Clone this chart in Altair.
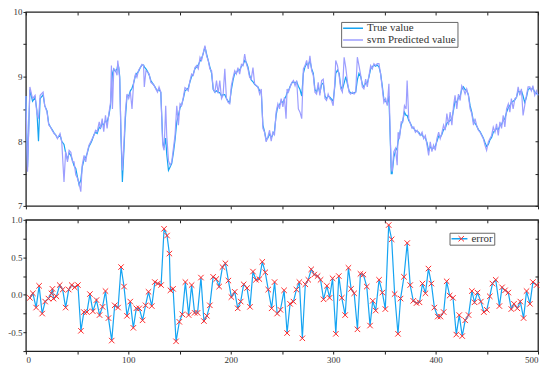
import altair as alt
import pandas as pd

# ---------------- data ----------------
x_top = [0.0, 1.6, 3.9, 6.5, 9.0, 10.7, 12.3, 13.9, 16.8, 18.4, 20.6, 22.3, 24.0, 25.6, 27.5, 29.0,
         30.8, 33.3, 35.0, 37.2, 38.8, 40.6, 42.2, 43.9, 45.5, 47.0, 48.7, 50.3, 51.9, 53.6, 55.0,
         56.8, 58.4, 60.0, 61.6, 63.3, 64.7, 66.4, 68.0, 69.6, 71.6, 72.8, 74.5, 76.0, 77.7, 79.3,
         81.0, 82.6, 83.5, 84.5, 85.8, 87.4, 89.0, 89.7, 90.6, 91.6, 92.8, 94.2, 95.5, 97.1, 98.7,
         100.4, 102.0, 103.6, 105.2, 107.0, 108.4, 110.0, 111.7, 113.3, 114.9, 115.6, 117.2, 118.8,
         120.4, 122.0, 123.6, 125.3, 126.8, 128.5, 130.0, 131.7, 133.6, 134.9, 136.5, 137.5, 139.2,
         140.8, 142.4, 144.0, 145.6, 147.3, 148.9, 150.5, 152.0, 153.7, 155.3, 157.0, 158.5, 160.2,
         161.8, 163.4, 165.0, 166.7, 168.3, 170.0, 171.5, 173.2, 174.8, 176.4, 178.0, 179.6, 181.3,
         182.9, 184.5, 186.1, 187.7, 189.3, 191.0, 192.5, 194.2, 195.8, 197.4, 199.0, 200.6, 202.3,
         203.9, 205.5, 207.0, 208.7, 210.4, 212.0, 213.6, 215.2, 216.8, 218.4, 220.0, 221.7, 223.3,
         225.0, 226.5, 228.2, 229.8, 231.4, 233.0, 234.6, 236.3, 237.9, 239.5, 241.0, 242.7, 244.3,
         246.0, 247.6, 249.2, 250.9, 252.4, 254.0, 255.0, 256.3, 258.0, 259.6, 261.2, 262.8, 264.4,
         266.0, 267.6, 269.3, 270.9, 272.5, 274.1, 275.7, 277.3, 279.0, 280.6, 282.2, 283.8, 285.4,
         287.0, 288.7, 290.3, 292.0, 293.5, 295.1, 296.8, 298.4, 300.0, 301.6, 302.5, 304.2, 305.8,
         307.4, 309.0, 310.7, 312.3, 314.0, 315.5, 317.0, 318.8, 320.4, 322.0, 323.6, 325.2, 326.9,
         328.5, 330.0, 331.7, 333.3, 335.0, 336.6, 338.2, 339.8, 341.4, 343.0, 344.7, 346.3, 348.0,
         349.5, 351.2, 352.8, 354.4, 356.0, 356.7, 357.6, 359.2, 360.8, 362.5, 363.4, 364.7, 366.4,
         368.0, 369.6, 371.2, 372.2, 373.8, 375.4, 377.0, 378.7, 380.3, 382.0, 383.5, 385.0, 386.8,
         388.3, 390.0, 391.6, 393.2, 394.8, 396.4, 398.0, 399.7, 401.3, 403.0, 404.5, 406.0, 407.8,
         409.4, 411.0, 412.6, 414.2, 415.9, 417.5, 419.0, 420.7, 422.3, 424.0, 425.5, 427.2, 428.8,
         430.4, 432.0, 433.7, 435.3, 437.0, 438.5, 440.0, 441.8, 443.4, 445.0, 446.6, 448.2, 449.8,
         451.5, 453.0, 454.7, 456.3, 458.0, 459.5, 461.2, 462.8, 464.4, 466.0, 467.6, 469.3, 471.0,
         472.5, 474.0, 475.7, 477.4, 479.0, 480.6, 482.2, 483.8, 485.4, 487.0, 488.7, 490.3, 492.0,
         493.5, 495.0, 496.8, 498.4, 500.0]

pred_vals = [8.70, 7.53, 8.84, 8.66, 8.71, 8.43, 8.35, 8.71, 8.76, 8.55, 8.45, 8.25, 8.22, 8.17, 8.12, 8.10,
             8.04, 8.12, 7.99, 7.37, 7.84, 7.68, 7.86, 7.83, 7.68, 7.68, 7.48, 7.43, 7.35, 7.22, 7.63,
             7.78, 7.68, 7.84, 7.94, 7.99, 8.04, 8.09, 8.17, 8.15, 8.30, 8.20, 8.35, 8.15, 8.40, 8.20,
             8.43, 8.60, 9.17, 8.50, 9.12, 9.10, 9.02, 9.25, 9.12, 8.96, 8.14, 7.55, 7.89, 8.45, 8.73,
             8.66, 8.76, 8.50, 8.91, 9.04, 8.99, 9.10, 9.14, 9.19, 9.17, 8.84, 9.09, 9.07,
             9.04, 8.91, 8.89, 8.86, 8.81, 8.76, 8.84, 8.76, 7.94, 7.86, 8.55, 8.09, 7.70,
             7.63, 7.68, 7.89, 8.09, 8.55, 8.25, 8.58, 8.55, 8.68, 8.83, 8.81, 8.78, 8.94,
             9.04, 9.02, 9.14, 9.17, 9.12, 9.30, 9.25, 9.37, 9.48, 9.32, 9.25, 9.12, 9.09,
             8.81, 8.76, 8.94, 8.74, 8.94, 8.66, 8.71, 9.12, 8.66, 8.60, 8.58, 8.86, 8.99,
             9.09, 9.04, 9.14, 9.04, 9.19, 9.17, 9.35, 9.20, 9.12, 8.99, 8.96, 9.14, 8.89,
             8.86, 8.84, 8.73, 8.81, 8.20, 8.14, 7.99, 8.07, 8.17, 8.00, 8.14, 8.10, 8.45,
             8.58, 8.50, 8.66, 8.53, 8.68, 8.35, 8.81, 8.76, 8.84, 8.91, 8.94, 8.86, 8.94,
             8.50, 8.45, 8.35, 9.12, 9.17, 9.25, 9.12, 9.32, 9.09, 9.02, 8.76, 8.73, 8.91,
             8.71, 8.94, 8.96, 8.66, 8.63, 8.73, 8.66, 8.63, 8.55, 8.91, 9.25, 9.17, 9.02,
             8.81, 8.76, 9.30, 9.14, 8.91, 8.76, 8.73, 8.76, 8.73, 8.76, 9.30, 9.17, 9.02,
             8.84, 8.81, 8.96, 8.84, 9.02, 9.17, 9.12, 9.20, 9.17, 9.20, 9.20, 9.04, 8.81,
             8.60, 8.66, 8.55, 8.89, 7.94, 7.60, 7.53, 7.84, 7.89, 7.63, 8.14, 8.04, 8.30,
             8.30, 8.55, 8.50, 8.94, 8.35, 8.27, 8.20, 8.22, 8.14, 8.17, 8.12, 8.09, 8.14,
             8.04, 8.09, 7.94, 7.78, 7.99, 7.84, 7.94, 7.86, 8.04, 8.14, 8.04, 8.12, 8.25,
             8.17, 8.43, 8.25, 8.45, 8.25, 8.55, 8.71, 8.50, 8.73, 8.63, 8.86, 8.81, 8.73,
             8.81, 8.71, 8.50, 8.43, 8.25, 8.35, 8.25, 8.17, 8.14, 8.09, 8.04, 7.94, 7.86,
             7.99, 8.04, 8.09, 8.22, 8.14, 8.27, 8.09, 8.30, 8.20, 8.40, 8.22, 8.50, 8.58,
             8.45, 8.66, 8.50, 8.66, 8.68, 8.84, 8.71, 8.81, 8.40, 8.55, 8.71, 8.84, 8.84,
             8.78, 8.86, 8.71, 8.78, 8.71]

true_vals = [8.70, 7.60, 8.80, 8.62, 8.68, 8.48, 8.00, 8.66, 8.72, 8.55, 8.47, 8.27, 8.22, 8.18, 8.13, 8.10,
             8.05, 8.10, 8.00, 7.95, 7.82, 7.72, 7.82, 7.78, 7.70, 7.62, 7.58, 7.45, 7.33, 7.40, 7.60,
             7.72, 7.75, 7.82, 7.92, 7.97, 8.02, 8.10, 8.14, 8.12, 8.22, 8.20, 8.28, 8.25, 8.32, 8.30,
             8.40, 8.55, 8.80, 9.05, 9.12, 9.08, 9.12, 9.18, 9.15, 9.00, 8.10, 7.37, 7.80, 8.35, 8.70,
             8.70, 8.78, 8.82, 8.90, 9.02, 9.05, 9.08, 9.14, 9.18, 9.18, 9.15, 9.12, 9.08,
             9.02, 8.94, 8.90, 8.86, 8.82, 8.78, 8.80, 8.76, 8.00, 7.90, 8.05, 7.80, 7.55,
             7.60, 7.66, 7.82, 8.02, 8.30, 8.40, 8.52, 8.56, 8.66, 8.78, 8.80, 8.82, 8.92,
             9.00, 9.04, 9.12, 9.15, 9.18, 9.24, 9.28, 9.36, 9.46, 9.35, 9.25, 9.15, 9.05,
             8.80, 8.76, 8.78, 8.76, 8.75, 8.70, 8.72, 8.72, 8.66, 8.62, 8.60, 8.80, 8.95,
             9.05, 9.06, 9.10, 9.10, 9.16, 9.18, 9.25, 9.22, 9.15, 9.02, 8.95, 8.92, 8.88,
             8.86, 8.84, 8.78, 8.76, 8.25, 8.15, 8.02, 8.05, 8.12, 8.05, 8.10, 8.16, 8.40,
             8.55, 8.56, 8.62, 8.60, 8.65, 8.70, 8.75, 8.78, 8.85, 8.90, 8.92, 8.90, 8.92,
             8.85, 8.80, 8.70, 9.05, 9.15, 9.20, 9.18, 9.25, 9.12, 9.05, 8.80, 8.76, 8.85,
             8.75, 8.88, 8.90, 8.70, 8.66, 8.70, 8.68, 8.65, 8.62, 8.85, 9.05, 9.10, 9.05,
             8.85, 8.80, 8.90, 9.00, 8.88, 8.78, 8.75, 8.74, 8.75, 8.76, 8.95, 9.05, 9.00,
             8.88, 8.84, 8.90, 8.90, 9.00, 9.12, 9.15, 9.18, 9.16, 9.18, 9.15, 9.05, 8.85,
             8.65, 8.62, 8.58, 8.70, 7.90, 7.50, 7.50, 7.75, 7.85, 7.90, 8.00, 8.08, 8.25,
             8.32, 8.45, 8.40, 8.40, 8.32, 8.28, 8.22, 8.20, 8.16, 8.15, 8.14, 8.10, 8.10,
             8.06, 8.05, 7.98, 7.85, 7.92, 7.88, 7.90, 7.92, 8.00, 8.08, 8.06, 8.10, 8.18,
             8.20, 8.28, 8.30, 8.32, 8.35, 8.48, 8.62, 8.60, 8.68, 8.70, 8.80, 8.84, 8.80,
             8.78, 8.72, 8.55, 8.45, 8.30, 8.28, 8.24, 8.18, 8.15, 8.10, 8.05, 7.98, 7.92,
             7.95, 8.02, 8.06, 8.14, 8.16, 8.20, 8.18, 8.24, 8.26, 8.32, 8.35, 8.45, 8.52,
             8.55, 8.60, 8.62, 8.64, 8.68, 8.78, 8.76, 8.78, 8.70, 8.60, 8.68, 8.80, 8.82,
             8.80, 8.82, 8.76, 8.74, 8.72]

err_x = [3.9, 6.8, 10.0, 12.9, 15.9, 18.8, 22.0, 24.9, 25.9, 26.9, 29.8, 33.0, 35.9, 38.8, 41.8, 44.7,
         47.6, 50.8, 53.7, 56.6, 59.6, 62.5, 65.4, 68.9, 71.9, 74.8, 77.7, 80.6, 83.8, 86.7, 90.0,
         92.9, 95.8, 98.7, 101.9, 104.9, 107.8, 110.7, 113.9, 116.8, 119.7, 122.9, 125.9, 128.8,
         132.0, 134.9, 137.8, 140.1, 141.1, 143.7, 146.6, 149.8, 152.7, 155.7, 158.9, 161.8, 164.7,
         167.6, 170.9, 173.8, 176.7, 179.6, 182.8, 185.8, 188.7, 191.9, 194.8, 197.7, 200.6, 203.9,
         206.8, 209.7, 212.6, 215.9, 218.8, 221.7, 224.6, 227.9, 230.8, 233.7, 236.6, 239.9, 242.8,
         245.3, 248.5, 252.1, 255.0, 257.9, 261.2, 264.1, 267.0, 269.9, 272.8, 275.7, 278.6, 281.5,
         284.8, 287.7, 290.6, 293.9, 296.5, 299.4, 302.6, 305.5, 308.4, 311.7, 314.9, 317.5, 320.5,
         323.7, 326.6, 329.5, 332.8, 336.0, 338.6, 341.5, 344.8, 348.0, 350.9, 354.2, 357.1, 360.0,
         363.3, 365.8, 369.1, 372.3, 375.2, 378.2, 381.4, 384.3, 387.2, 390.1, 393.0, 395.9, 398.8,
         402.1, 404.7, 407.9, 410.8, 413.7, 417.0, 420.2, 423.1, 426.0, 428.9, 432.2, 435.4, 438.0,
         440.9, 444.2, 447.1, 450.0, 452.9, 455.5, 458.7, 462.3, 464.9, 467.8, 471.0, 473.9, 476.5,
         479.8, 482.7, 485.9, 488.8, 492.1, 495.0, 498.6]

err_vals = [-0.04, 0.02, -0.17, 0.12, -0.25, -0.09, -0.05, 0.02, 0.08, -0.05, -0.02, 0.13, 0.07, -0.17,
            0.07, 0.13, 0.10, 0.13, -0.48, -0.23, -0.23, 0.01, -0.22, -0.07, -0.27, -0.16, 0.05,
            -0.31, -0.61, -0.14, -0.17, 0.37, 0.11, -0.28, -0.09, -0.44, -0.18, -0.18, -0.34, -0.14,
            0.04, -0.15, 0.17, 0.15, 0.13, 0.88, 0.79, 0.55, 0.06, 0.08, -0.62, -0.36, -0.26, 0.17,
            -0.27, 0.13, -0.24, -0.24, 0.23, -0.35, -0.28, -0.14, 0.24, 0.21, 0.11, 0.37, 0.42, 0.19,
            -0.03, 0.04, -0.18, -0.09, 0.14, 0.09, -0.16, 0.31, 0.20, 0.21, 0.44, 0.30, 0.07, -0.18,
            0.17, -0.25, -0.20, 0.06, -0.51, -0.12, -0.09, 0.07, 0.17, -0.58, 0.14, 0.20, 0.34, 0.27,
            0.25, 0.20, -0.06, 0.12, -0.04, 0.22, -0.52, 0.25, -0.04, -0.27, 0.36, 0.08, 0.02, -0.46,
            0.28, 0.27, 0.11, -0.41, -0.08, -0.21, 0.20, 0.03, -0.19, 0.93, 0.74, 0.01, -0.52, -0.05,
            0.24, 0.69, 0.13, -0.08, -0.11, -0.10, 0.15, 0.02, 0.35, 0.15, -0.17, -0.29, -0.29,
            -0.23, 0.18, -0.01, -0.04, -0.53, -0.27, -0.55, -0.34, -0.27, 0.05, -0.10, 0.03, -0.09,
            -0.23, -0.20, -0.02, 0.15, 0.20, -0.15, 0.10, 0.06, 0.03, -0.19, -0.12, -0.18, -0.09,
            -0.31, 0.05, -0.12, 0.17, 0.13]

series_names = ["True value", "svm Predicted value"]
err_name = "error"
marker_key = "error marker"

# ---------------- styling ----------------
BLUE = "#16A4F2"
LAV = "#9C9EFF"
RED = "#FF2A2A"
FONT = "Liberation Serif"
XPATH = "M-1,-1L1,1M-1,1L1,-1"
HLINE = "M-1,0L1,0"

W = 515
H_TOP = 195
H_BOT = 132

true_df = pd.DataFrame({"x": x_top, "value": true_vals, "series": series_names[0]})
pred_df = pd.DataFrame({"x": x_top, "value": pred_vals, "series": series_names[1]})
err_df = pd.DataFrame({"x": err_x, "value": err_vals, "series": err_name, "marker": marker_key})

x_scale = alt.Scale(domain=[0, 500], nice=False, zero=False)
y_top_scale = alt.Scale(domain=[7, 10], nice=False, zero=False)
y_bot_scale = alt.Scale(domain=[-0.75, 1.0], nice=False, zero=False)

x_ticks = list(range(0, 501, 50))
y_top_ticks = [7, 7.5, 8, 8.5, 9, 9.5, 10]
y_bot_ticks = [-0.75, -0.5, -0.25, 0, 0.25, 0.5, 0.75, 1.0]

color_top = alt.Color(
    "series:N",
    scale=alt.Scale(domain=series_names, range=[BLUE, LAV]),
    legend=alt.Legend(
        orient="none", legendX=317, legendY=10, title=None,
        symbolType=HLINE, symbolSize=400, symbolStrokeWidth=1.5,
        labelFont=FONT, labelFontSize=11, labelColor="#333",
        fillColor="white", strokeColor="#666", padding=1, rowPadding=0,
        clipHeight=10.5, labelOffset=3, zindex=3,
    ),
)

true_line = alt.Chart(true_df).mark_line(strokeWidth=1.2).encode(
    x=alt.X("x:Q", scale=x_scale,
            axis=alt.Axis(values=x_ticks, labels=False, tickSize=3, title=None,
                          grid=False, domain=False, tickColor="#222")),
    y=alt.Y("value:Q", scale=y_top_scale,
            axis=alt.Axis(values=y_top_ticks, title=None, grid=False, domain=False, tickSize=3,
                          labelExpr="datum.value % 1 == 0 ? format(datum.value, 'd') : ''",
                          tickColor="#222")),
    color=color_top,
    order=alt.Order("x:Q"),
)
pred_line = alt.Chart(pred_df).mark_line(strokeWidth=1.2).encode(
    x=alt.X("x:Q", scale=x_scale,
            axis=alt.Axis(orient="top", offset=-3, values=x_ticks, labels=False, tickSize=3,
                          title=None, grid=False, domain=False, tickColor="#222")),
    y=alt.Y("value:Q", scale=y_top_scale,
            axis=alt.Axis(orient="right", offset=-3, values=y_top_ticks, labels=False, tickSize=3,
                          title=None, grid=False, domain=False, tickColor="#222")),
    color=color_top,
    order=alt.Order("x:Q"),
)
top = alt.layer(true_line, pred_line).resolve_axis(x="independent", y="independent").properties(
    width=W, height=H_TOP)

err_line = alt.Chart(err_df).mark_line(strokeWidth=1.2).encode(
    x=alt.X("x:Q", scale=x_scale,
            axis=alt.Axis(values=x_ticks, title=None, grid=False, domain=False, tickSize=3,
                          labelExpr="datum.value % 100 == 0 ? datum.label : ''", tickColor="#222")),
    y=alt.Y("value:Q", scale=y_bot_scale,
            axis=alt.Axis(values=y_bot_ticks, title=None, grid=False, domain=False, tickSize=3,
                          labelExpr="(datum.value * 2) % 1 == 0 ? (datum.value < 0 ? '-' + format(-datum.value, '.1f') : format(datum.value, '.1f')) : ''",
                          tickColor="#222")),
    color=alt.Color("series:N", scale=alt.Scale(domain=[err_name], range=[BLUE]),
                    legend=alt.Legend(orient="none", legendX=426, legendY=13, title=None,
                                      symbolType=HLINE, symbolSize=256, symbolStrokeWidth=1.5,
                                      labelFont=FONT, labelFontSize=11, labelColor="#333",
                                      fillColor="white", strokeColor="#666", padding=1,
                                      clipHeight=10, labelOffset=3, zindex=3)),
    order=alt.Order("x:Q"),
)
err_pts = alt.Chart(err_df).mark_point(filled=False, strokeWidth=1, size=30, color=RED, opacity=1).encode(
    x=alt.X("x:Q", scale=x_scale,
            axis=alt.Axis(orient="top", offset=-3, values=x_ticks, labels=False, tickSize=3,
                          title=None, grid=False, domain=False, tickColor="#222")),
    y=alt.Y("value:Q", scale=y_bot_scale,
            axis=alt.Axis(orient="right", offset=-3, values=[-0.25, 0.25, 0.75], labels=False,
                          tickSize=3, title=None, grid=False, domain=False, tickColor="#222")),
    shape=alt.Shape("marker:N", scale=alt.Scale(domain=[marker_key], range=[XPATH]),
                    legend=alt.Legend(orient="none", legendX=431.3, legendY=13, title=None,
                                      symbolSize=30, symbolStrokeColor=RED, symbolStrokeWidth=1,
                                      symbolFillColor="transparent",
                                      labelFont=FONT, labelFontSize=11, labelOpacity=0,
                                      padding=1, clipHeight=10, labelOffset=3, zindex=5)),
)
bottom = alt.layer(err_line, err_pts).resolve_axis(x="independent", y="independent").properties(
    width=W, height=H_BOT)

chart = alt.vconcat(top, bottom, spacing=3).resolve_scale(
    color="independent", shape="independent"
).resolve_legend(color="independent", shape="independent").properties(
    padding={"left": -1, "top": -2, "right": 0, "bottom": 0}
).configure_view(
    stroke="#222", strokeWidth=1.3
).configure_axis(
    labelFont=FONT, labelFontSize=9, labelColor="#333", labelPadding=1
)

chart.save("out.html", embed_options={"renderer": "svg", "actions": False})
